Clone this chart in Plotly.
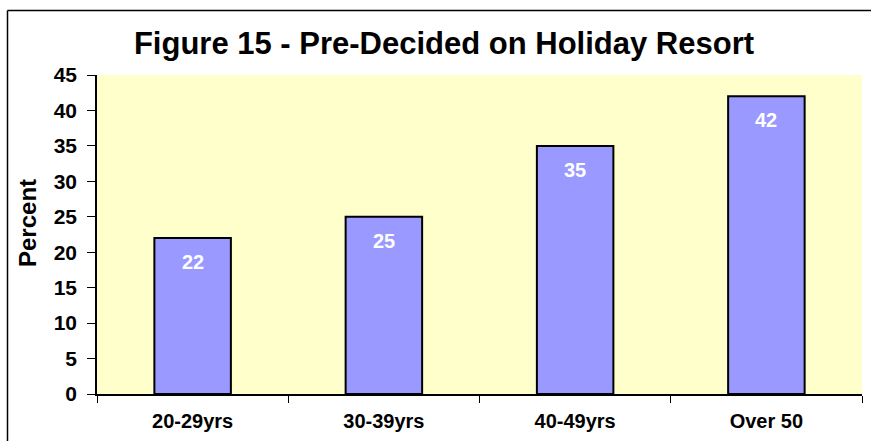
import plotly.graph_objects as go

# Share of respondents who had already chosen their holiday resort, by age group
age_groups = ["20-29yrs", "30-39yrs", "40-49yrs", "Over 50"]
percent = [22, 25, 35, 42]
y_ticks = [0, 5, 10, 15, 20, 25, 30, 35, 40, 45]

FONT = "Liberation Sans, Arial, sans-serif"

fig = go.Figure()

fig.add_trace(go.Bar(
    x=age_groups,
    y=percent,
    width=0.4,
    marker=dict(color="#9999FF", line=dict(color="#000000", width=2)),
    hoverinfo="x+y",
    showlegend=False,
))

# White value labels sitting just inside the top of each bar
for cat, val in zip(age_groups, percent):
    fig.add_annotation(
        x=cat, y=val, xref="x", yref="y",
        text=f"<b>{val}</b>", showarrow=False,
        yanchor="middle", yshift=-24,
        font=dict(family=FONT, size=20, color="#FFFFFF"),
    )

# Vertical axis caption
fig.add_annotation(
    x=(27 - 97) / 765, y=(394 - 223) / 319, xref="paper", yref="paper",
    text="<b>Percent</b>", textangle=-90, showarrow=False,
    xanchor="center", yanchor="middle",
    font=dict(family=FONT, size=24, color="#000000"),
)

# Outer frame: left and top edges of the chart border
frame_left = (7.5 - 97) / 765
frame_top = (394 - 10.5) / 319
fig.add_shape(type="line", xref="paper", yref="paper",
              x0=frame_left, x1=frame_left, y0=-0.3, y1=frame_top,
              line=dict(color="#000000", width=1.5))
fig.add_shape(type="line", xref="paper", yref="paper",
              x0=frame_left, x1=1.1, y0=frame_top, y1=frame_top,
              line=dict(color="#000000", width=1.5))

fig.update_layout(
    width=871, height=441,
    margin=dict(l=97, r=9, t=75, b=47),
    paper_bgcolor="#FFFFFF",
    plot_bgcolor="#FFFFCC",
    title=dict(
        text="<b>Figure 15 - Pre-Decided on Holiday Resort</b>",
        x=444 / 871, xanchor="center",
        y=1 - 43 / 441, yanchor="middle",
        font=dict(family=FONT, size=31, color="#000000"),
    ),
    font=dict(family=FONT, color="#000000"),
    bargap=0.6,
)

fig.update_xaxes(
    showline=True, linecolor="#000000", linewidth=1.5,
    showgrid=False, zeroline=False,
    ticks="outside", tickson="boundaries", ticklen=7,
    tickcolor="#000000", tickwidth=1,
    tickfont=dict(family=FONT, size=20, color="#000000"),
    tickprefix="<b>", ticksuffix="</b>",
    ticklabelstandoff=8,
)

fig.update_yaxes(
    range=[0, 45], tickvals=y_ticks,
    ticktext=[f"<b>{v}</b>" for v in y_ticks],
    showline=True, linecolor="#000000", linewidth=1.5,
    showgrid=False, zeroline=False,
    ticks="outside", ticklen=8, tickcolor="#000000", tickwidth=1,
    tickfont=dict(family=FONT, size=21, color="#000000"),
    ticklabelstandoff=6,
)

fig.write_html("out.html", config={"displayModeBar": False})
